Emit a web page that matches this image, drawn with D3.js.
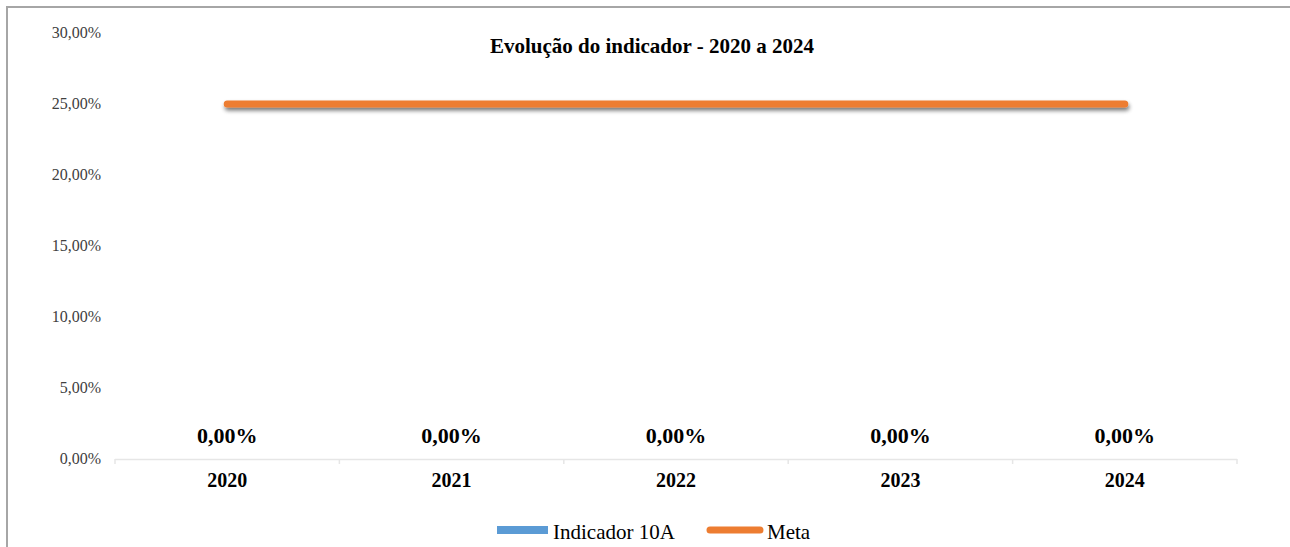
<!DOCTYPE html>
<html><head><meta charset="utf-8">
<script src="https://cdn.jsdelivr.net/npm/d3@7"></script>
<style>html,body{margin:0;padding:0;background:#fff;}svg{display:block;}svg text{font-family:"Liberation Serif","Times New Roman",Tinos,serif;}</style>
</head><body>
<svg id="c" width="1290" height="547"></svg>
<script>
const categories = ["2020","2021","2022","2023","2024"];
const indicador = [0,0,0,0,0];
const meta = [0.25,0.25,0.25,0.25,0.25];
const yTicks = [0,0.05,0.10,0.15,0.20,0.25,0.30];
const title = "Evolução do indicador - 2020 a 2024";
const seriesNames = ["Indicador 10A","Meta"];

const svg = d3.select("#c");
const fmt = v => (v*100).toFixed(2).replace(".", ",") + "%";

// frame
svg.append("line").attr("x1",7).attr("x2",7).attr("y1",6).attr("y2",547).attr("stroke","#a6a6a6").attr("stroke-width",2);
svg.append("line").attr("x1",6).attr("x2",1290).attr("y1",7).attr("y2",7).attr("stroke","#a6a6a6").attr("stroke-width",2);

const x = d3.scaleBand().domain(categories).range([115,1237]).padding(0);
const y = d3.scaleLinear().domain([0,0.30]).range([459,33]);

const defs = svg.append("defs");
const f = defs.append("filter").attr("id","sh").attr("filterUnits","userSpaceOnUse")
  .attr("x",0).attr("y",0).attr("width",1290).attr("height",547);
f.append("feGaussianBlur").attr("in","SourceAlpha").attr("stdDeviation",2).attr("result","b");
f.append("feOffset").attr("in","b").attr("dx",1).attr("dy",3).attr("result","o");
f.append("feComponentTransfer").attr("in","o").attr("result","o2").append("feFuncA").attr("type","linear").attr("slope",0.55);
const m = f.append("feMerge"); m.append("feMergeNode").attr("in","o2"); m.append("feMergeNode").attr("in","SourceGraphic");

// y axis labels
svg.append("g").selectAll("text").data(yTicks).join("text")
  .attr("x",101).attr("y",d=>y(d)+5).attr("text-anchor","end")
  .attr("font-size",16).attr("fill","#404040").text(fmt);

// x axis baseline
const xa = svg.append("g");
xa.append("line").attr("x1",115).attr("x2",1237).attr("y1",459.5).attr("y2",459.5).attr("stroke","#e6e6e6").attr("stroke-width",1.5);
xa.selectAll("line.t").data(categories.concat(["end"])).join("line").attr("class","t")
  .attr("x1",(d,i)=>115+i*x.bandwidth()).attr("x2",(d,i)=>115+i*x.bandwidth())
  .attr("y1",459).attr("y2",464).attr("stroke","#e6e6e6").attr("stroke-width",1.5);
xa.selectAll("text").data(categories).join("text")
  .attr("x",d=>x(d)+x.bandwidth()/2).attr("y",487).attr("text-anchor","middle")
  .attr("font-size",20).attr("font-weight","bold").attr("fill","#000").text(d=>d);

// bars (zero)
svg.append("g").selectAll("rect").data(indicador).join("rect")
  .attr("x",(d,i)=>x(categories[i])+x.bandwidth()*0.25).attr("width",x.bandwidth()*0.5)
  .attr("y",d=>y(d)).attr("height",d=>y(0)-y(d)).attr("fill","#5b9bd5");
svg.append("g").selectAll("text").data(indicador).join("text")
  .attr("x",(d,i)=>x(categories[i])+x.bandwidth()/2).attr("y",d=>y(d)-16).attr("text-anchor","middle")
  .attr("font-size",22).attr("font-weight","bold").attr("fill","#000").text(fmt);

// meta line
const line = d3.line().x((d,i)=>x(categories[i])+x.bandwidth()/2).y(d=>y(d));
svg.append("path").datum(meta).attr("d",line).attr("fill","none").attr("stroke","#ed7d31")
  .attr("stroke-width",7).attr("stroke-linecap","round").attr("filter","url(#sh)");

// title
svg.append("text").attr("x",652).attr("y",53).attr("text-anchor","middle")
  .attr("font-size",21).attr("font-weight","bold").attr("fill","#000").text(title);

// legend
const lg = svg.append("g");
lg.append("rect").attr("x",497).attr("y",526).attr("width",51).attr("height",8).attr("fill","#5b9bd5");
lg.append("text").attr("x",553).attr("y",539).attr("font-size",21).attr("fill","#000").text(seriesNames[0]);
lg.append("line").attr("x1",710).attr("x2",760).attr("y1",530).attr("y2",530).attr("stroke","#ed7d31").attr("stroke-width",7).attr("stroke-linecap","round");
lg.append("text").attr("x",767).attr("y",539).attr("font-size",21).attr("fill","#000").text(seriesNames[1]);
</script>
</body></html>
